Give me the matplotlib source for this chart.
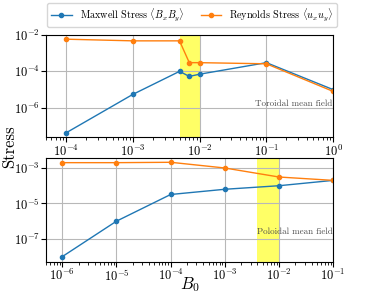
import numpy as np
import matplotlib
matplotlib.use('Agg')
import matplotlib.pyplot as plt

plt.rcParams['font.family'] = 'serif'
plt.rcParams['font.serif'] = ['cmr10']
plt.rcParams['mathtext.fontset'] = 'cm'
plt.rcParams['axes.formatter.use_mathtext'] = True

# toroidal mean field
B_tor = [1e-4, 1e-3, 5e-3, 7e-3, 1e-2, 1e-1, 1.0]
maxwell_tor = [4.3e-8, 5.5e-6, 1.0e-4, 5.3e-5, 7.0e-5, 3.0e-4, 1.0e-5]
reynolds_tor = [5.8e-3, 4.7e-3, 4.7e-3, 3.0e-4, 3.0e-4, 2.6e-4, 8.0e-6]
span_tor = (5e-3, 1e-2)

# poloidal mean field
B_pol = [1e-6, 1e-5, 1e-4, 1e-3, 1e-2, 1e-1]
maxwell_pol = [1.0e-8, 1.0e-6, 3.2e-5, 6.3e-5, 1.0e-4, 2.0e-4]
reynolds_pol = [2.0e-3, 2.0e-3, 2.1e-3, 1.0e-3, 3.1e-4, 2.0e-4]
span_pol = (4e-3, 1e-2)

fig = plt.figure(figsize=(3.71, 2.93), dpi=100)
ax1 = fig.add_axes([0.124, 0.532, 0.774, 0.349])
ax2 = fig.add_axes([0.124, 0.106, 0.774, 0.355])

for ax, B, mx, rs, span, label, ty in [
        (ax1, B_tor, maxwell_tor, reynolds_tor, span_tor, 'Toroidal mean field', 0.28),
        (ax2, B_pol, maxwell_pol, reynolds_pol, span_pol, 'Poloidal mean field', 0.25)]:
    ax.axvspan(span[0], span[1], color='yellow', alpha=0.6, lw=0)
    ax.plot(B, mx, '-o', color='C0', ms=3, lw=1,
            label=r'Maxwell Stress $\langle B_x B_y\rangle$')
    ax.plot(B, rs, '-o', color='C1', ms=3, lw=1,
            label=r'Reynolds Stress $\langle u_x u_y\rangle$')
    ax.set_xscale('log')
    ax.set_yscale('log')
    ax.grid(True, which='major', color='0.72', lw=0.8)
    ax.tick_params(labelsize=9, pad=1)
    ax.text(0.998, ty, label, transform=ax.transAxes,
            ha='right', va='bottom', fontsize=6.5, color='0.3')

ax1.set_xlim(5e-5, 1.0)
ax1.set_ylim(2.5e-8, 1e-2)
ax1.set_yticks([1e-6, 1e-4, 1e-2])
ax2.set_xlim(5e-7, 1e-1)
ax2.set_ylim(5e-9, 3.7e-3)
ax2.set_yticks([1e-7, 1e-5, 1e-3])
for ax in (ax1, ax2):
    ax.yaxis.set_minor_locator(matplotlib.ticker.NullLocator())

ax2.set_xlabel(r'$B_0$', fontsize=12)
ax2.xaxis.set_label_coords(0.5, -0.125)
fig.text(0.026, 0.498, 'Stress', rotation=90, ha='center', va='center', fontsize=12)

h, l = ax1.get_legend_handles_labels()
fig.legend(h, l, loc='center', bbox_to_anchor=(0.518, 0.949), ncol=2, fontsize=7.3,
           frameon=True, handlelength=2, columnspacing=1.6)

fig.savefig('out.png', dpi=100)
